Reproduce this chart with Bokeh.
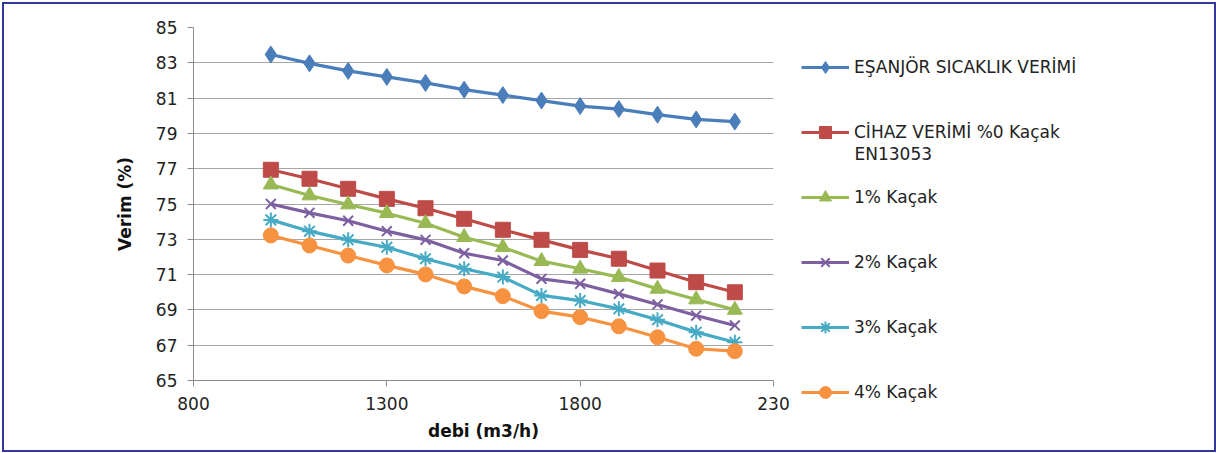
from bokeh.plotting import figure
from bokeh.models import FixedTicker, Legend, LegendItem, Label, Range1d
from bokeh.layouts import row
from bokeh.embed import file_html
from bokeh.resources import INLINE

debi = [1000, 1100, 1200, 1300, 1400, 1500, 1600, 1700, 1800, 1900, 2000, 2100, 2200]
esanjor = [83.47, 82.97, 82.54, 82.20, 81.86, 81.48, 81.17, 80.86, 80.55, 80.38, 80.06, 79.79, 79.67]
cihaz0 = [76.94, 76.43, 75.86, 75.29, 74.76, 74.16, 73.54, 72.97, 72.40, 71.90, 71.23, 70.57, 70.00]
kacak1 = [76.10, 75.48, 74.97, 74.48, 73.91, 73.12, 72.55, 71.76, 71.33, 70.86, 70.19, 69.59, 69.00]
kacak2 = [75.00, 74.50, 74.05, 73.46, 72.97, 72.21, 71.80, 70.76, 70.48, 69.91, 69.31, 68.68, 68.12]
kacak3 = [74.10, 73.46, 72.97, 72.55, 71.90, 71.33, 70.86, 69.82, 69.53, 69.06, 68.44, 67.74, 67.17]
kacak4 = [73.22, 72.65, 72.08, 71.52, 71.01, 70.33, 69.78, 68.93, 68.59, 68.07, 67.45, 66.80, 66.66]

series_names = ["EŞANJÖR SICAKLIK VERİMİ", "CİHAZ VERİMİ %0 Kaçak", "1% Kaçak",
                "2% Kaçak", "3% Kaçak", "4% Kaçak"]
extra_line = "EN13053"
x_ticks = [800, 1300, 1800, 2300]
y_ticks = [65, 67, 69, 71, 73, 75, 77, 79, 81, 83, 85]

colors = ["#4A7EBB", "#BE4B48", "#98B954", "#7D60A0", "#46AAC5", "#F69240"]
markers = ["diamond", "square", "triangle", "x", "asterisk", "circle"]
sizes = [17, 15, 15, 14, 15, 15]

FONT = "DejaVu Sans"
TXT = "#222222"

p = figure(frame_width=580, frame_height=353,
           min_border_left=189, min_border_right=18,
           min_border_top=23, min_border_bottom=70,
           x_range=Range1d(800, 2300), y_range=Range1d(65, 85),
           output_backend="svg", toolbar_location=None)

p.outline_line_color = None
p.border_fill_color = "white"

p.xgrid.grid_line_color = None
p.ygrid.grid_line_color = "#A6A6A6"
p.ygrid.grid_line_width = 1

p.xaxis.ticker = FixedTicker(ticks=x_ticks)
p.yaxis.ticker = FixedTicker(ticks=y_ticks)
p.xaxis.major_label_overrides = {2300: "230"}

for ax in (p.xaxis, p.yaxis):
    ax.axis_line_color = "#8C8C8C"
    ax.major_tick_line_color = "#8C8C8C"
    ax.major_tick_out = 6
    ax.major_tick_in = 0
    ax.minor_tick_line_color = None
    ax.major_label_text_font = FONT
    ax.major_label_text_font_size = "17px"
    ax.major_label_text_color = TXT
    ax.axis_label_text_font = FONT
    ax.axis_label_text_font_size = "17px"
    ax.axis_label_text_font_style = "bold"
    ax.axis_label_text_color = "#111111"

p.xaxis.axis_label = "debi (m3/h)"
p.yaxis.axis_label = "Verim (%)"
p.xaxis.major_label_standoff = 10
p.xaxis.axis_label_standoff = 8
p.yaxis.major_label_standoff = 10
p.yaxis.axis_label_standoff = 18

all_series = [esanjor, cihaz0, kacak1, kacak2, kacak3, kacak4]


def draw(fig, xs, ys, c, m, s):
    lr = fig.line(xs, ys, line_color=c, line_width=3.2)
    if m in ("x", "asterisk"):
        sr = fig.scatter(xs, ys, marker=m, size=s, line_color=c, line_width=2)
    else:
        sr = fig.scatter(xs, ys, marker=m, size=s, fill_color=c, line_color=c)
    return lr, sr


for ys, c, m, s in zip(all_series, colors, markers, sizes):
    draw(p, debi, ys, c, m, s)

# legend panel (own figure so the legend is not clipped by the chart frame)
q = figure(width=423, height=446, min_border=0, x_axis_type=None, y_axis_type=None,
           x_range=Range1d(0, 1), y_range=Range1d(0, 1),
           output_backend="svg", toolbar_location=None)
q.outline_line_color = None
q.grid.visible = False
if "frame_align" in q.properties():
    q.frame_align = False
    p.frame_align = False

nan = float("nan")
items = []
for name, c, m, s in zip(series_names, colors, markers, sizes):
    lr, sr = draw(q, [nan], [nan], c, m, s)
    items.append(LegendItem(label=name, renderers=[lr, sr]))

legend = Legend(items=items, location=(10, 43),
                glyph_width=48, glyph_height=30, label_height=30,
                label_standoff=5, spacing=35, padding=0, margin=0,
                border_line_color=None, background_fill_alpha=0,
                label_text_font=FONT, label_text_font_size="17px",
                label_text_color=TXT)
q.add_layout(legend)

q.add_layout(Label(x=63, y=297, x_units="screen", y_units="screen",
                   text=extra_line, text_font=FONT, text_font_size="17px",
                   text_color=TXT, text_baseline="middle"))

layout = row(p, q, styles={"border": "2px solid #34369A", "margin": "2px"})

open("out.html", "w").write(file_html(layout, INLINE))
